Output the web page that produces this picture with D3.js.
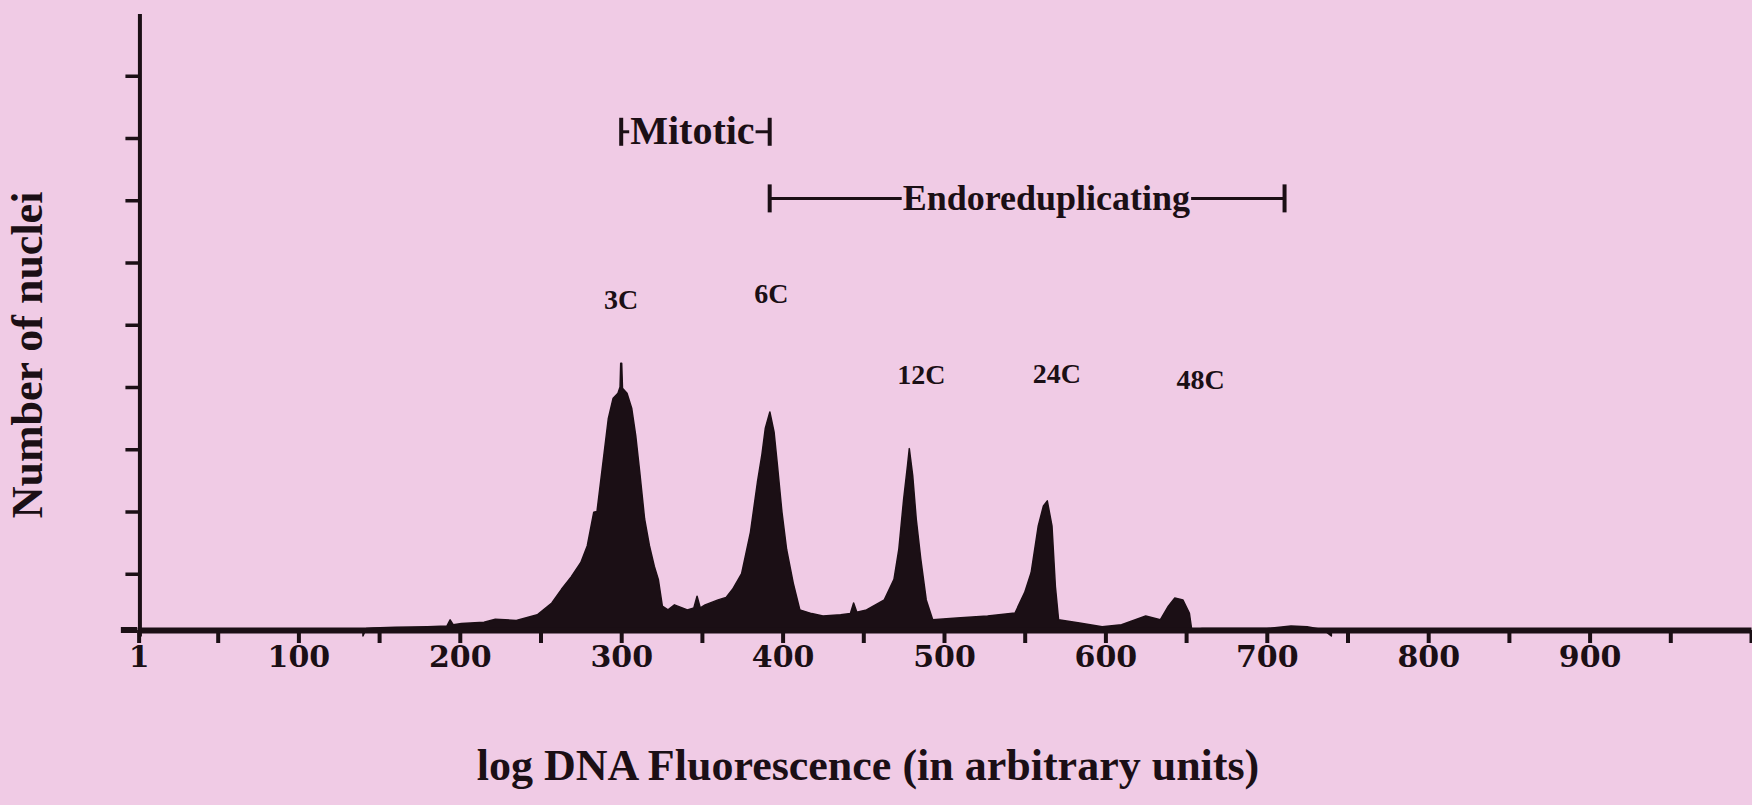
<!DOCTYPE html>
<html>
<head>
<meta charset="utf-8">
<script src="https://cdn.jsdelivr.net/npm/d3@7"></script>
<style>
  html, body { margin: 0; padding: 0; background: #f0cbe5; }
  svg { display: block; }
  .axis path, .axis line { stroke: #1b0f15; }
  .axis text { fill: #1b0f15; font-family: "DejaVu Serif", serif; font-weight: bold; }
  .lbl { fill: #1b0f15; font-family: "Liberation Serif", "Times New Roman", serif; font-weight: bold; }
</style>
</head>
<body>
<svg id="chart" width="1752" height="805"></svg>
<script>
// histogram outline (fluorescence channel, nuclei in y-tick units)
const fluor = [
  140, 142, 146, 160, 180, 192, 194, 196, 201, 215, 222, 235, 248, 257, 263,
  269, 275, 279, 283, 285, 289, 292, 295, 298, 299.3, 299.7, 300.3, 300.8,
  303.6, 306.5, 309, 311.5, 314.5, 317.5, 320.5, 323, 325.5, 329,
  333, 341, 345, 347, 349, 352, 360, 365, 369, 374.6, 380.1, 384.4, 387.1, 389.3,
  392.1, 394.7, 396.8, 399.6, 402.5, 406.6, 410.7, 418, 425, 436, 442, 444, 446,
  452, 463, 469, 472, 475, 477.4, 478.5, 480.6, 482.8, 485.6, 489, 493,
  508, 527, 544, 550, 554, 558.4, 561.6, 564, 566.9, 569, 571,
  584, 598, 610, 625, 634, 639, 643, 648, 652, 653.5,
  660, 700, 715, 725, 735, 740
];
const nuclei = [
  0, 0.12, 0.13, 0.14, 0.15, 0.16, 0.26, 0.18, 0.2, 0.22, 0.27, 0.25, 0.34, 0.53, 0.75,
  0.95, 1.18, 1.45, 1.99, 2.0, 2.85, 3.49, 3.82, 3.9, 4.0, 4.38, 4.38, 3.98,
  3.9, 3.66, 3.22, 2.63, 1.88, 1.45, 1.12, 0.91, 0.48, 0.42,
  0.5, 0.42, 0.45, 0.64, 0.45, 0.5, 0.58, 0.62, 0.75, 1.0, 1.67, 2.47, 2.9, 3.34,
  3.6, 3.28, 2.74, 1.99, 1.39, 0.85, 0.42, 0.36, 0.32, 0.34, 0.36, 0.53, 0.38,
  0.42, 0.58, 0.91, 1.39, 2.2, 2.74, 3.01, 2.58, 1.88, 1.24, 0.58, 0.26,
  0.29, 0.32, 0.37, 0.7, 1.02, 1.77, 2.09, 2.17, 1.77, 0.8, 0.26,
  0.21, 0.15, 0.18, 0.32, 0.26, 0.48, 0.61, 0.58, 0.37, 0.1,
  0.12, 0.12, 0.16, 0.15, 0.1, 0
];

// axis ticks
const xTicks = d3.range(0, 1001, 50).map(v => v === 0 ? 1 : v);
const xTickLabels = [1, 100, 200, 300, 400, 500, 600, 700, 800, 900];
const yTicks = [1, 2, 3, 4, 5, 6, 7, 8, 9];

// peak labels and phase brackets
const peakNames = ["3C", "6C", "12C", "24C", "48C"];
const peakLabelX = [300, 393, 486, 570, 659];
const peakLabelY = [5.25, 5.35, 4.05, 4.07, 3.97];
const phaseNames = ["Mitotic", "Endoreduplicating"];
const phaseFrom = [300, 392];
const phaseTo = [392, 711];
const phaseY = [8.1, 7.03];
const phaseFont = [40, 36];
const phaseGap = [9, 133];

const data = fluor.map((f, i) => ({ f, n: nuclei[i] }));

const svg = d3.select("#chart");
const ink = "#1b0f15";

const x = d3.scaleLinear().domain([0, 1000]).range([137, 1751]);
const y = d3.scaleLinear().domain([0, 10]).range([636, 13.5]);
const base = y(0) - 6;

// Histogram
const area = d3.area()
  .x(d => x(d.f))
  .y0(base)
  .y1(d => y(d.n))
  .curve(d3.curveLinear);

svg.append("path")
  .datum(data)
  .attr("fill", ink)
  .attr("stroke", ink)
  .attr("stroke-width", 1.5)
  .attr("stroke-linejoin", "round")
  .attr("d", area);

// Axes
const xAxis = svg.append("g")
  .attr("class", "axis")
  .attr("transform", `translate(0,${base})`)
  .call(d3.axisBottom(x)
    .tickValues(xTicks)
    .tickSize(13)
    .tickSizeOuter(0)
    .tickPadding(3)
    .tickFormat(d => xTickLabels.includes(d) ? d : ""));
xAxis.select(".domain").attr("stroke-width", 6);
xAxis.selectAll(".tick line").attr("stroke-width", 4);
xAxis.selectAll(".tick text").attr("font-size", 30);

// left stub of the baseline past the y axis
svg.append("line")
  .attr("x1", x(-10)).attr("x2", x(0))
  .attr("y1", base).attr("y2", base)
  .attr("stroke", ink).attr("stroke-width", 6);

const yAxis = svg.append("g")
  .attr("class", "axis")
  .attr("transform", `translate(${x(1.5)},0)`)
  .call(d3.axisLeft(y)
    .tickValues(yTicks)
    .tickSize(14)
    .tickSizeOuter(0)
    .tickFormat(""));
yAxis.select(".domain").attr("stroke-width", 4);
yAxis.selectAll(".tick line").attr("stroke-width", 3.5);

// Axis titles
svg.append("text")
  .attr("class", "lbl")
  .attr("x", 868)
  .attr("y", 780)
  .attr("text-anchor", "middle")
  .attr("font-size", 44)
  .text("log DNA Fluorescence (in arbitrary units)");

svg.append("text")
  .attr("class", "lbl")
  .attr("transform", "translate(42,355) rotate(-90)")
  .attr("text-anchor", "middle")
  .attr("font-size", 44)
  .text("Number of nuclei");

// Peak labels
svg.selectAll(".peak")
  .data(peakNames)
  .join("text")
  .attr("class", "lbl peak")
  .attr("x", (d, i) => x(peakLabelX[i]))
  .attr("y", (d, i) => y(peakLabelY[i]))
  .attr("text-anchor", "middle")
  .attr("font-size", 28)
  .text(d => d);

// Phase brackets: |--- name ---|
phaseNames.forEach((name, i) => {
  const g = svg.append("g");
  const x0 = x(phaseFrom[i]), x1 = x(phaseTo[i]), yy = y(phaseY[i]);
  const tx = x0 + phaseGap[i];
  const label = g.append("text")
    .attr("class", "lbl")
    .attr("x", tx)
    .attr("y", yy + 12)
    .attr("font-size", phaseFont[i])
    .text(name);
  const w = label.node().getComputedTextLength();
  g.append("line").attr("x1", x0).attr("x2", tx - 1).attr("y1", yy).attr("y2", yy)
    .attr("stroke", ink).attr("stroke-width", 3);
  g.append("line").attr("x1", tx + w + 1).attr("x2", x1).attr("y1", yy).attr("y2", yy)
    .attr("stroke", ink).attr("stroke-width", 3);
  [x0, x1].forEach(xe => g.append("line")
    .attr("x1", xe).attr("x2", xe).attr("y1", yy - 14).attr("y2", yy + 14)
    .attr("stroke", ink).attr("stroke-width", 4));
});
</script>
</body>
</html>
